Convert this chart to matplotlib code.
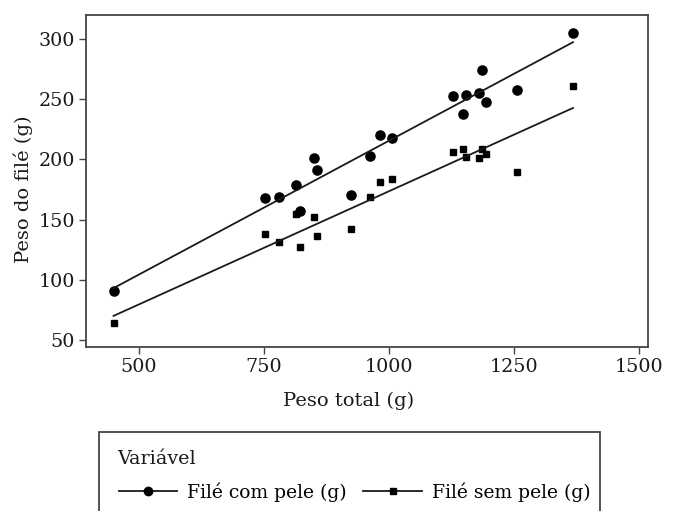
import numpy as np
import matplotlib.pyplot as plt
from matplotlib.lines import Line2D
from matplotlib.patches import Rectangle

# --- data ------------------------------------------------------------------
peso_total = [449, 752, 780, 813, 822, 850, 855, 924, 961, 981, 1006,
              1127, 1147, 1154, 1179, 1185, 1193, 1255, 1368]
file_com_pele = [90.5, 168.3, 168.6, 178.9, 157.0, 200.8, 191.0, 170.8, 203.0,
                 220.3, 218.0, 252.8, 237.5, 253.3, 255.2, 274.4, 247.5, 258.0, 305.0]
file_sem_pele = [64.2, 137.8, 131.1, 154.4, 127.2, 152.2, 136.7, 141.9, 168.8,
                 180.8, 183.6, 206.0, 208.8, 201.9, 201.1, 208.4, 204.2, 189.4, 261.3]

x_ticks = [500, 750, 1000, 1250, 1500]
y_ticks = [50, 100, 150, 200, 250, 300]

FONT = "DejaVu Serif"
plt.rcParams["font.family"] = FONT
INK = "#1a1a1a"


def main():
    fig = plt.figure(figsize=(6.79, 5.11), dpi=100)
    ax = fig.add_axes([86 / 679, 1 - 346.5 / 511, 562 / 679, 331.5 / 511])

    x = np.array(peso_total, dtype=float)
    xs = np.array([x.min(), x.max()])
    for y, mk, ms in [(file_com_pele, "o", 6.6), (file_sem_pele, "s", 4.6)]:
        ax.plot(x, y, ls="none", marker=mk, ms=ms, color="black", mec="black")
        b, a = np.polyfit(x, y, 1)
        ax.plot(xs, a + b * xs, color=INK, lw=1.3)

    ax.set_xlim(394, 1518)
    ax.set_ylim(44.5, 320)
    ax.set_xticks(x_ticks)
    ax.set_yticks(y_ticks)
    ax.tick_params(labelsize=13.8, length=5, width=1, color="#444444",
                   labelcolor=INK, pad=3)
    for s in ax.spines.values():
        s.set_color("#444444")
        s.set_linewidth(1.3)

    ax.set_xlabel("Peso total (g)", fontsize=14, color=INK)
    ax.set_ylabel("Peso do filé (g)", fontsize=14, color=INK)
    # labels sit a little off-centre in the reference
    ax.xaxis.set_label_coords(0.468, -0.138)
    ax.yaxis.set_label_coords(-0.094, 0.475)

    # legend box (bottom edge runs off the figure)
    fig.patches.append(Rectangle((99 / 679, -0.05), 501 / 679, 0.05 + 1 - 432 / 511,
                                 transform=fig.transFigure, fill=False,
                                 ec="#444444", lw=1.3))
    fig.text(117 / 679, 1 - 459 / 511, "Variável", fontsize=13.8, color=INK,
             va="center", ha="left")
    handles = [
        Line2D([], [], color=INK, lw=1.3, marker="o", ms=6, mec="black", mfc="black"),
        Line2D([], [], color=INK, lw=1.3, marker="s", ms=4.3, mec="black", mfc="black"),
    ]
    fig.legend(handles, ["Filé com pele (g)", "Filé sem pele (g)"],
               loc="center left", bbox_to_anchor=(111 / 679, 1 - 492 / 511),
               ncol=2, frameon=False, fontsize=13.5, handlelength=3.1,
               columnspacing=0.9, handletextpad=0.55, borderaxespad=0)

    fig.savefig("out.png", dpi=100, facecolor="white")
    plt.close(fig)


if __name__ == "__main__":
    main()
